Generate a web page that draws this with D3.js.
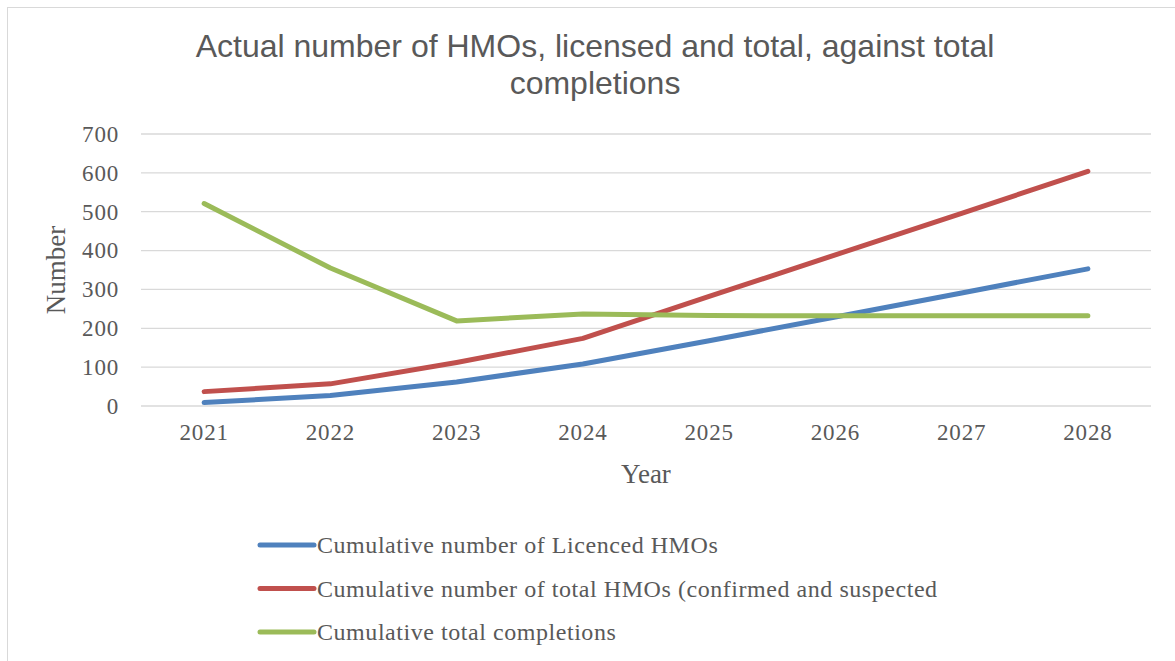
<!DOCTYPE html>
<meta charset="utf-8">
<style>
    body { margin: 0; background: #fff; }
    svg text { fill: #595959; }
</style>
<svg width="1175" height="661" class="chart"></svg>
<script src="https://cdn.jsdelivr.net/npm/d3@7"></script>
<script>

var years = ['2021', '2022', '2023', '2024', '2025', '2026', '2027', '2028'];
var licenced = [9, 27, 62, 108, 168, 229, 291, 353];
var totalHmos = [37, 57, 112, 174, 282, 389, 496, 604];
var completions = [521, 355, 219, 237, 233, 232, 232, 232];
var yTicks = [0, 100, 200, 300, 400, 500, 600, 700];

var seriesNames = [
    'Cumulative number of Licenced HMOs',
    'Cumulative number of total HMOs (confirmed and suspected',
    'Cumulative total completions'
];
var seriesColors = ['#4F81BD', '#C0504D', '#9BBB59'];

var series = [licenced, totalHmos, completions].map(function(v, i){
    return { name: seriesNames[i], color: seriesColors[i], values: v };
});

var svg = d3.select('svg.chart'),
    margin = {top: 134, right: 24, bottom: 255, left: 141},
    width = 1151 - margin.left,
    height = 406 - margin.top;

var serif = '"Liberation Serif", "DejaVu Serif", serif';

// outer frame
svg.append('rect')
    .attr('x', 7.5).attr('y', 7.5)
    .attr('width', 1200).attr('height', 700)
    .attr('fill', 'none')
    .attr('stroke', '#D9D9D9')
    .attr('stroke-width', 1);

// title
var title = svg.append('text')
    .attr('text-anchor', 'middle')
    .style('font-family', '"Liberation Sans", Arial, sans-serif')
    .style('font-size', '32px');
title.append('tspan').attr('x', 595).attr('y', 57)
    .text('Actual number of HMOs, licensed and total, against total');
title.append('tspan').attr('x', 595).attr('y', 94)
    .text('completions');

var x = d3.scaleBand()
    .domain(years)
    .range([0, width]);

var y = d3.scaleLinear()
    .domain([0, 700])
    .range([height, 0]);

var focus = svg.append('g')
    .attr('transform', 'translate(' + margin.left + ',' + margin.top + ')');

// gridlines
focus.append('g')
    .selectAll('line')
    .data(yTicks)
    .enter()
    .append('line')
    .attr('x1', 0)
    .attr('x2', width)
    .attr('y1', function(d){ return y(d); })
    .attr('y2', function(d){ return y(d); })
    .attr('stroke', '#D9D9D9')
    .attr('stroke-width', 1.3);

var yAxis = d3.axisLeft(y).tickValues(yTicks).tickSize(0).tickPadding(22);
var gy = focus.append('g').call(yAxis);
gy.select('.domain').remove();
gy.selectAll('text')
    .style('font-family', serif)
    .style('font-size', '23px')
    .style('letter-spacing', '0.8px')
    .attr('fill', '#595959');

var xAxis = d3.axisBottom(x).tickSize(0).tickPadding(18);
var gx = focus.append('g')
    .attr('transform', 'translate(0,' + height + ')')
    .call(xAxis);
gx.select('.domain').remove();
gx.selectAll('text')
    .style('font-family', serif)
    .style('font-size', '23px')
    .style('letter-spacing', '0.8px')
    .attr('fill', '#595959');

// axis titles
svg.append('text')
    .attr('transform', 'translate(65,270) rotate(-90)')
    .attr('text-anchor', 'middle')
    .style('font-family', serif)
    .style('font-size', '27px')
    .text('Number');

svg.append('text')
    .attr('x', 646)
    .attr('y', 483)
    .attr('text-anchor', 'middle')
    .style('font-family', serif)
    .style('font-size', '27px')
    .text('Year');

var line = d3.line()
    .x(function(d, i){ return x(years[i]) + x.bandwidth() / 2; })
    .y(function(d){ return y(d); });

focus.selectAll('path.series')
    .data(series)
    .enter()
    .append('path')
    .classed('series', true)
    .attr('fill', 'none')
    .attr('stroke', function(d){ return d.color; })
    .attr('stroke-width', 5)
    .attr('stroke-linejoin', 'round')
    .attr('stroke-linecap', 'round')
    .attr('d', function(d){ return line(d.values); });

// legend
var legend = svg.selectAll('g.legend')
    .data(series)
    .enter()
    .append('g')
    .classed('legend', true)
    .attr('transform', function(d, i){ return 'translate(258,' + (545 + i * 43.5) + ')'; });

legend.append('line')
    .attr('x1', 2).attr('x2', 56)
    .attr('stroke', function(d){ return d.color; })
    .attr('stroke-width', 5)
    .attr('stroke-linecap', 'round');

legend.append('text')
    .attr('x', 59)
    .attr('dy', '0.35em')
    .style('font-family', serif)
    .style('font-size', '24px')
    .style('letter-spacing', '0.55px')
    .text(function(d){ return d.name; });

</script>
